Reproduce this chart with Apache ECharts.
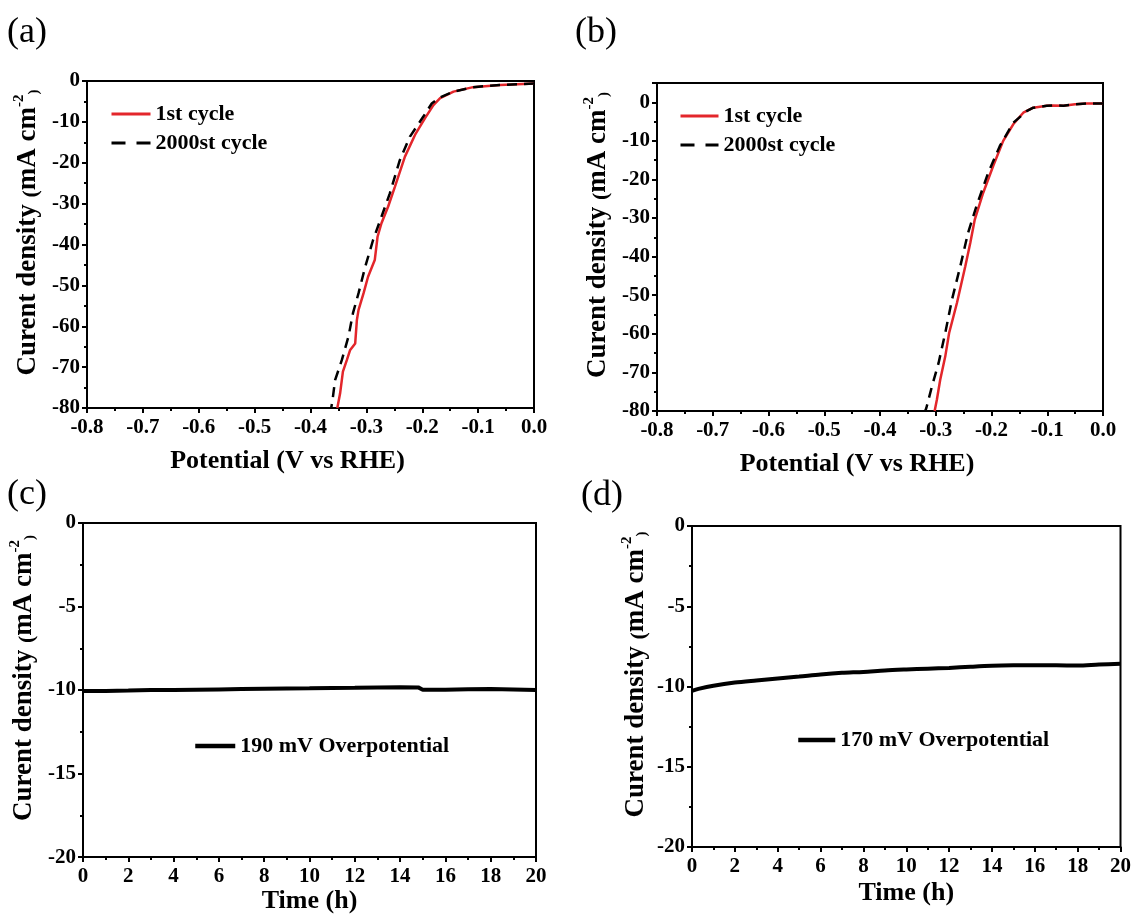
<!DOCTYPE html>
<html>
<head>
<meta charset="utf-8">
<script src="https://cdn.jsdelivr.net/npm/echarts@6/dist/echarts.min.js"></script>
<style>
html,body{margin:0;padding:0;background:#fff;}
#chart{width:1134px;height:915px;}
</style>
</head>
<body>
<div id="chart"></div>
<script>
// ---- Data ----
// Panel (a): LSV curves
const aFirstV  = [0, -0.03, -0.061, -0.109, -0.144, -0.168, -0.180, -0.195, -0.213, -0.231, -0.249, -0.261, -0.273, -0.280, -0.285, -0.297, -0.305, -0.314, -0.317, -0.320, -0.329, -0.335, -0.342, -0.347, -0.352];
const aFirstJ  = [-0.6, -0.8, -1.0, -1.5, -2.6, -4.2, -5.9, -9.1, -13.2, -18.5, -25.9, -30.7, -34.8, -38.1, -43.8, -47.9, -51.9, -56.0, -58.5, -64.2, -65.8, -68.3, -71.1, -76.4, -80];
const aSecondV = [0, -0.03, -0.061, -0.109, -0.144, -0.168, -0.183, -0.198, -0.222, -0.240, -0.258, -0.273, -0.288, -0.302, -0.314, -0.324, -0.332, -0.344, -0.356, -0.361, -0.363];
const aSecondJ = [-0.6, -0.8, -1.0, -1.5, -2.6, -4.0, -5.5, -8.7, -13.6, -19.3, -27.5, -33.2, -38.9, -45.4, -51.9, -56.8, -62.5, -68.3, -73.2, -78.5, -80];
// Panel (b): LSV curves
const bFirstV  = [0, -0.029, -0.05, -0.071, -0.09, -0.101, -0.125, -0.143, -0.161, -0.179, -0.197, -0.215, -0.230, -0.238, -0.247, -0.262, -0.276, -0.283, -0.292, -0.298, -0.302];
const bFirstJ  = [-0.3, -0.3, -0.5, -0.9, -0.8, -0.9, -1.4, -2.7, -5.7, -10.0, -16.5, -23.5, -30.4, -36.4, -42.5, -52.0, -59.8, -65.9, -71.9, -77.1, -80];
const bSecondV = [0, -0.029, -0.05, -0.071, -0.09, -0.101, -0.125, -0.137, -0.161, -0.185, -0.206, -0.227, -0.242, -0.256, -0.271, -0.283, -0.295, -0.307, -0.317, -0.319];
const bSecondJ = [-0.3, -0.3, -0.5, -0.9, -0.8, -0.9, -1.4, -2.3, -5.3, -11.3, -18.3, -26.9, -33.8, -42.5, -51.2, -59.8, -67.6, -73.7, -79.3, -80];
// Panel (c): chronoamperometry, 190 mV
const cTime = [0, 1, 2, 3, 4, 5, 6, 7, 8, 9, 10, 11, 12, 13, 14, 14.8, 15.0, 16, 17, 18, 19, 20];
const cJ    = [-10.05, -10.05, -10.03, -10.0, -10.0, -9.98, -9.96, -9.94, -9.92, -9.9, -9.89, -9.87, -9.86, -9.84, -9.83, -9.84, -9.98, -9.98, -9.95, -9.94, -9.96, -10.0];
// Panel (d): chronoamperometry, 170 mV
const dTime = [0, 0.3, 1, 2, 3, 4, 5, 6, 7, 8, 9, 10, 11, 12, 13, 14, 15, 16, 17, 18, 19, 20];
const dJ    = [-10.27, -10.15, -9.95, -9.75, -9.62, -9.5, -9.38, -9.25, -9.15, -9.09, -9.0, -8.94, -8.89, -8.84, -8.77, -8.71, -8.68, -8.67, -8.68, -8.69, -8.63, -8.59];

const seriesNames = ['1st cycle', '2000st cycle', '190 mV Overpotential', '170 mV Overpotential'];
const panelLabels = ['(a)', '(b)', '(c)', '(d)'];
const xTitleLSV = 'Potential (V vs RHE)';
const xTitleTime = 'Time (h)';
const yTitleRich = '{m|Curent density }{p|(}{m|mA cm}{s|-2}{b|)}';

// ---- Helpers ----
const FF = "'Liberation Serif','Times New Roman',serif";
const pairs = (xs, ys) => xs.map((x, i) => [x, ys[i]]);
const RED = '#e3262b';

function xAx(gi, min, max, interval, fmt, name, gap, pad) {
  return {
    type: 'value', gridIndex: gi, min: min, max: max, interval: interval,
    name: name, nameLocation: 'middle', nameGap: gap,
    nameTextStyle: {fontFamily: FF, fontWeight: 'bold', fontSize: 26, color: '#000', lineHeight: 26, padding: pad || 0},
    axisLine: {show: true, onZero: false, lineStyle: {color: '#000', width: 2}},
    axisTick: {show: true, length: 5, lineStyle: {color: '#000', width: 2}},
    minorTick: {show: true, splitNumber: 2, length: 3, lineStyle: {color: '#000', width: 2}},
    splitLine: {show: false},
    axisLabel: {fontFamily: FF, fontWeight: 'bold', fontSize: 21, color: '#000', margin: 9, formatter: fmt}
  };
}
function yAx(gi, min, max, interval, gap, showMax) {
  return {
    type: 'value', gridIndex: gi, min: min, max: max, interval: interval,
    name: yTitleRich, nameLocation: 'middle', nameGap: gap, nameRotate: 90,
    nameTextStyle: {
      padding: [0, 0, 0, 24],
      rich: {
        m: {fontFamily: FF, fontWeight: 'bold', fontSize: 27, color: '#000', lineHeight: 30, verticalAlign: 'bottom'},
        p: {fontFamily: FF, fontWeight: 'bold', fontSize: 22, color: '#000', lineHeight: 30, verticalAlign: 'bottom'},
        s: {fontFamily: FF, fontWeight: 'bold', fontSize: 15, color: '#000', lineHeight: 30, verticalAlign: 'top'},
        b: {fontFamily: FF, fontWeight: 'bold', fontSize: 15, color: '#000', lineHeight: 30, verticalAlign: 'bottom'}
      }
    },
    axisLine: {show: true, onZero: false, lineStyle: {color: '#000', width: 2}},
    axisTick: {show: true, length: 5, lineStyle: {color: '#000', width: 2}},
    minorTick: {show: true, splitNumber: 2, length: 3, lineStyle: {color: '#000', width: 2}},
    splitLine: {show: false},
    axisLabel: {fontFamily: FF, fontWeight: 'bold', fontSize: 21, color: '#000', margin: 7, showMaxLabel: showMax,
      formatter: v => String(Math.round(v))}
  };
}
const fmt1 = v => (Math.abs(v) < 1e-9 ? '0.0' : v.toFixed(1));
const fmt0 = v => String(Math.round(v));

const legendText = {fontFamily: FF, fontWeight: 'bold', fontSize: 22, color: '#000'};
const hiddenSymbol = {color: 'transparent', borderWidth: 0, opacity: 0};
const lsvLegendData = [
  {name: seriesNames[0]},
  {name: seriesNames[1], lineStyle: {type: [14, 11], width: 3}}
];

const option = {
  animation: false,
  backgroundColor: '#fff',
  grid: [
    {left: 87, top: 81, width: 447, height: 327, show: true, borderColor: '#000', borderWidth: 2},
    {left: 657, top: 83, width: 446, height: 328, show: true, borderColor: '#000', borderWidth: 2},
    {left: 83, top: 523, width: 453, height: 335, show: true, borderColor: '#000', borderWidth: 2},
    {left: 692, top: 526, width: 430, height: 321, show: true, borderColor: '#000', borderWidth: 2}
  ],
  xAxis: [
    xAx(0, -0.8, 0, 0.1, fmt1, xTitleLSV, 40, [0, 46, 0, 0]),
    xAx(1, -0.8, 0, 0.1, fmt1, xTitleLSV, 40, [0, 46, 0, 0]),
    xAx(2, 0, 20, 2, fmt0, xTitleTime, 25),
    xAx(3, 0, 20, 2, fmt0, xTitleTime, 33)
  ],
  yAxis: [
    yAx(0, -80, 0, 10, 45, true),
    yAx(1, -80, 5, 10, 45, false),
    yAx(2, -20, 0, 5, 45, true),
    yAx(3, -20, 0, 5, 42, true)
  ],
  legend: [
    {left: 110, top: 103, padding: 0, orient: 'vertical', itemWidth: 39, itemHeight: 14, itemGap: 7,
     itemStyle: hiddenSymbol, lineStyle: {width: 3}, data: lsvLegendData, textStyle: legendText},
    {left: 679, top: 105, padding: 0, orient: 'vertical', itemWidth: 38, itemHeight: 14, itemGap: 7,
     itemStyle: hiddenSymbol, lineStyle: {width: 3}, data: lsvLegendData, textStyle: legendText},
    {left: 193, top: 735, padding: 0, orient: 'vertical', itemWidth: 40, itemHeight: 14,
     itemStyle: hiddenSymbol, lineStyle: {width: 4.5}, data: [seriesNames[2]], textStyle: legendText},
    {left: 796, top: 729, padding: 0, orient: 'vertical', itemWidth: 37, itemHeight: 14,
     itemStyle: hiddenSymbol, lineStyle: {width: 4.5}, data: [seriesNames[3]], textStyle: legendText}
  ],
  graphic: [
    {type: 'text', left: 7, top: 15, style: {text: panelLabels[0], font: "36px 'Liberation Serif', serif", fill: '#000'}},
    {type: 'text', left: 575, top: 15, style: {text: panelLabels[1], font: "36px 'Liberation Serif', serif", fill: '#000'}},
    {type: 'text', left: 7, top: 477, style: {text: panelLabels[2], font: "36px 'Liberation Serif', serif", fill: '#000'}},
    {type: 'text', left: 581, top: 478, style: {text: panelLabels[3], font: "36px 'Liberation Serif', serif", fill: '#000'}}
  ],
  series: [
    {name: seriesNames[0], type: 'line', xAxisIndex: 0, yAxisIndex: 0, data: pairs(aFirstV, aFirstJ),
     symbol: 'none', lineStyle: {color: RED, width: 2.5}, itemStyle: {color: RED}, z: 3},
    {name: seriesNames[1], type: 'line', xAxisIndex: 0, yAxisIndex: 0, data: pairs(aSecondV, aSecondJ),
     symbol: 'none', lineStyle: {color: '#000', width: 2.5, type: [10, 7]}, itemStyle: {color: '#000'}, z: 4},
    {name: seriesNames[0], type: 'line', xAxisIndex: 1, yAxisIndex: 1, data: pairs(bFirstV, bFirstJ),
     symbol: 'none', lineStyle: {color: RED, width: 2.5}, itemStyle: {color: RED}, z: 3},
    {name: seriesNames[1], type: 'line', xAxisIndex: 1, yAxisIndex: 1, data: pairs(bSecondV, bSecondJ),
     symbol: 'none', lineStyle: {color: '#000', width: 2.5, type: [10, 7]}, itemStyle: {color: '#000'}, z: 4},
    {name: seriesNames[2], type: 'line', xAxisIndex: 2, yAxisIndex: 2, data: pairs(cTime, cJ),
     symbol: 'none', lineStyle: {color: '#000', width: 4}, itemStyle: {color: '#000'}},
    {name: seriesNames[3], type: 'line', xAxisIndex: 3, yAxisIndex: 3, data: pairs(dTime, dJ),
     symbol: 'none', smooth: 0.3, lineStyle: {color: '#000', width: 4}, itemStyle: {color: '#000'}}
  ]
};

const chart = echarts.init(document.getElementById('chart'), null, {renderer: 'canvas'});
chart.setOption(option);
</script>
</body>
</html>
